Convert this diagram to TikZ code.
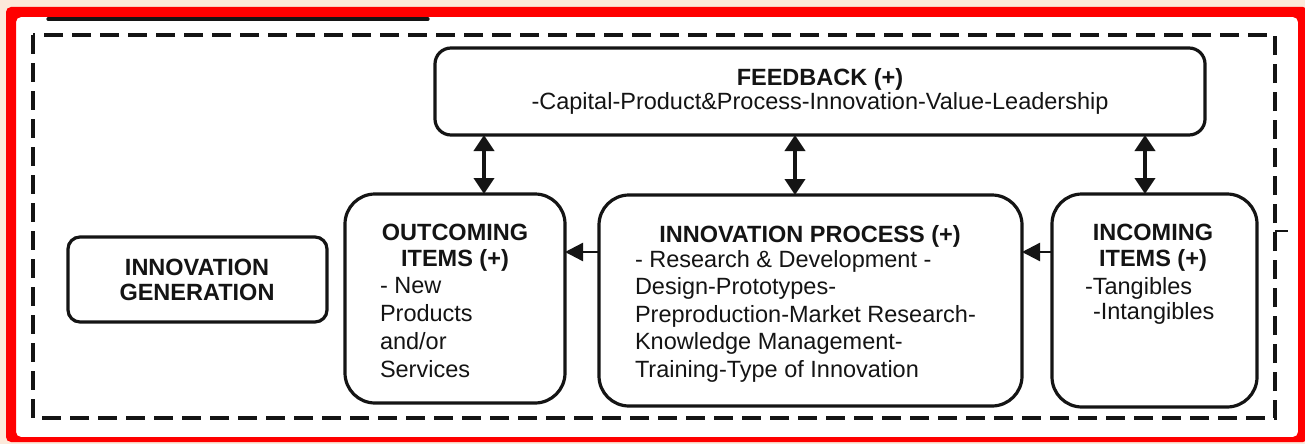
\documentclass[tikz,border=0pt]{standalone}
\usepackage{fontspec}
\setmainfont{Liberation Sans}
\usetikzlibrary{arrows.meta}
\definecolor{peach}{RGB}{252,233,218}
\definecolor{framered}{RGB}{255,0,0}
\definecolor{ink}{RGB}{20,20,20}
\begin{document}
\begin{tikzpicture}[x=1pt,y=-1pt,
  every node/.style={inner sep=0pt, outer sep=0pt, text=ink, font=\fontsize{23.5pt}{27.5pt}\selectfont},
  box/.style={draw=ink, line width=3.2pt, rounded corners=28pt},
  dbl/.style={draw=ink, line width=3.8pt, {Triangle[width=20pt,length=16pt]}-{Triangle[width=20pt,length=16pt]}},
  sgl/.style={draw=ink, line width=2.4pt, -{Triangle[width=18pt,length=18pt]}}
]
\useasboundingbox (0,0) rectangle (1305,444);
\fill[peach] (0,0) rectangle (1305,444);
\fill[white] (11,12) rectangle (1302,439);
\draw[ink, line width=3.2pt, line cap=round] (48,19) -- (428,19);
\fill[framered, even odd rule, rounded corners=5pt] (6,7) rectangle (1308,442) (16,17) rectangle (1298,437);

% dashed frame
\draw[ink, line width=3.2pt, dash pattern=on 19pt off 9pt] (33,35) rectangle (1275,418);
\draw[ink, line width=2.4pt] (1275,231) -- (1288,231);

% boxes
\node[box, rounded corners=16pt, minimum width=770pt, minimum height=87pt] (fb) at (820,91.5) {};
\node[box, rounded corners=30pt, minimum width=220pt, minimum height=209pt] (outc) at (455,298.5) {};
\node[box, rounded corners=30pt, minimum width=423pt, minimum height=211pt] (proc) at (810.5,300.5) {};
\node[box, rounded corners=30pt, minimum width=205pt, minimum height=213pt] (inc) at (1154.5,300.5) {};
\node[box, rounded corners=12pt, minimum width=259pt, minimum height=85pt] (gen) at (197.5,279.5) {};

% texts
\node[anchor=base] (fbt) at (820,85) {\parbox[t]{760pt}{\centering\fontsize{23.5pt}{24pt}\selectfont\textbf{FEEDBACK (+)}\\-Capital-Product\&Process-Innovation-Value-Leadership}};
\node[anchor=base] (outct) at (455,240) {\parbox[t]{210pt}{\centering\bfseries\fontsize{23.5pt}{26pt}\selectfont OUTCOMING\\ITEMS (+)}};
\node[anchor=base west] (outcb) at (380,293) {\parbox[t]{180pt}{\raggedright\fontsize{23.5pt}{28pt}\selectfont - New\\Products\\and/or\\Services}};
\node[anchor=base] (proct) at (810,242) {\parbox[t]{410pt}{\centering\bfseries INNOVATION PROCESS (+)}};
\node[anchor=base west] (procb) at (635,267) {\parbox[t]{380pt}{\raggedright\fontsize{23.5pt}{27.5pt}\selectfont - Research \& Development -\\Design-Prototypes-\\Preproduction-Market Research-\\Knowledge Management-\\Training-Type of Innovation}};
\node[anchor=base] (inct) at (1153,240) {\parbox[t]{200pt}{\centering\bfseries\fontsize{23.5pt}{26pt}\selectfont INCOMING\\ITEMS (+)}};
\node[anchor=base west] (incb) at (1085,294) {\parbox[t]{170pt}{\raggedright\fontsize{23.5pt}{25pt}\selectfont -Tangibles\\\hspace*{8pt}-Intangibles}};
\node[anchor=base] (gent) at (197,275) {\parbox[t]{250pt}{\centering\bfseries\fontsize{23.5pt}{25pt}\selectfont INNOVATION\\GENERATION}};

% connectors
\coordinate (c1) at (484,0);
\coordinate (c2) at (795,0);
\coordinate (c3) at (1145,0);
\coordinate (h) at (0,252);
\draw[dbl] (fb.south -| c1) -- (outc.north -| c1);
\draw[dbl] (fb.south -| c2) -- (proc.north -| c2);
\draw[dbl] (fb.south -| c3) -- (inc.north -| c3);
\draw[sgl] (proc.west |- h) -- (outc.east |- h);
\draw[sgl] (inc.west |- h) -- (proc.east |- h);
\end{tikzpicture}
\end{document}
